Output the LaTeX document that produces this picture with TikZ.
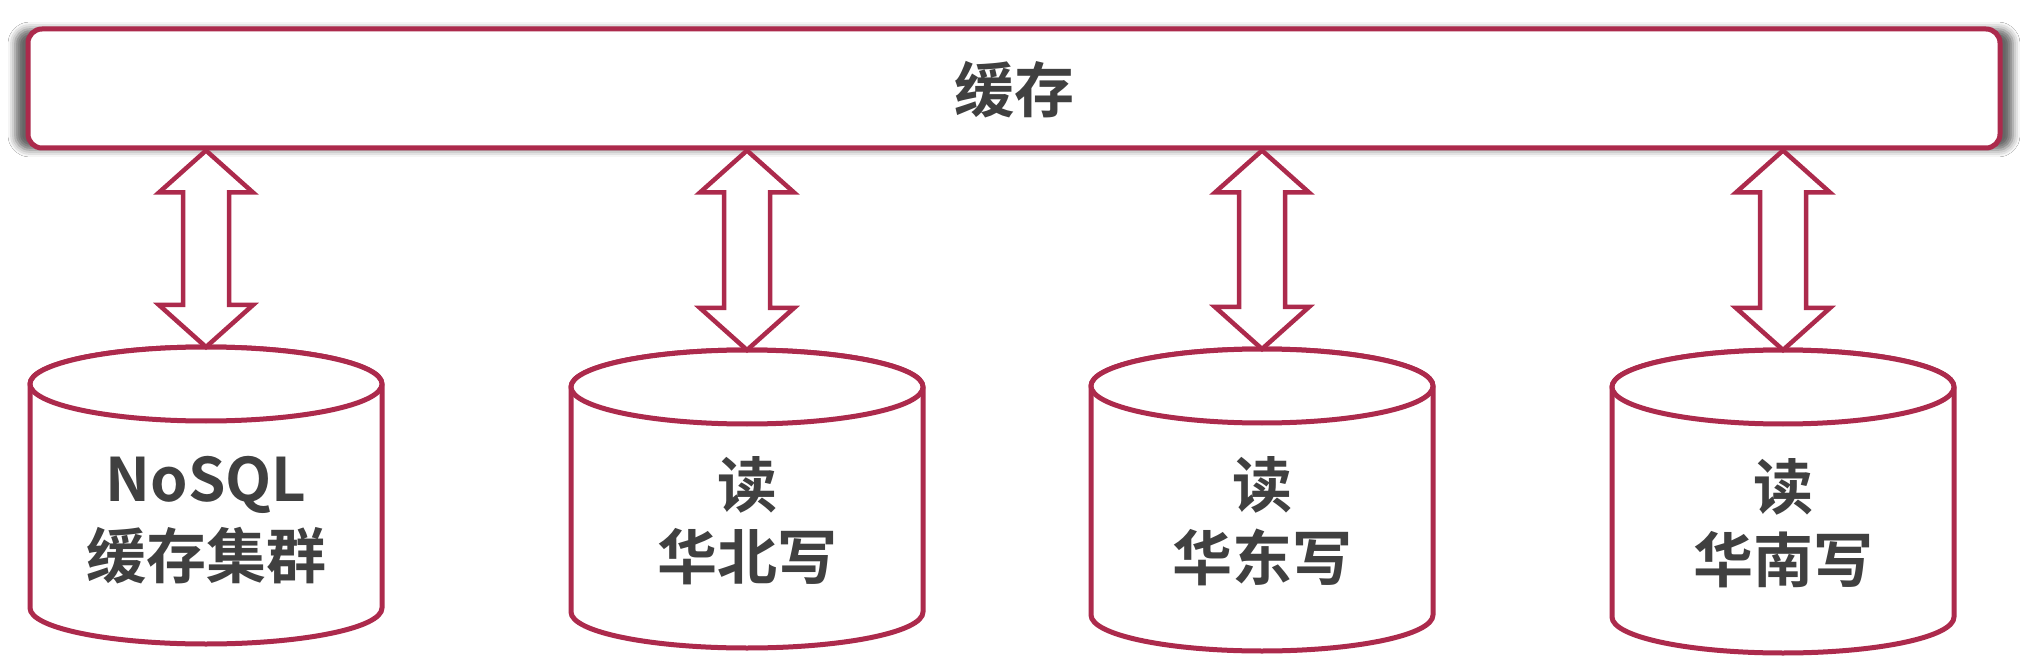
\documentclass[tikz,border=0pt]{standalone}
\usepackage{fontspec}
\newfontfamily\cjkb{Noto Sans CJK SC Bold}
\usetikzlibrary{calc,shadows.blur}
\definecolor{lc}{RGB}{172,42,76}
\definecolor{tc}{RGB}{64,64,64}
\newcommand\dbcyl[5]{% #1 name, #2 cx, #3 rx, #4 top y, #5 bottom y (pixels, downwards)
  \path[cylline] (#2-#3,-#4-37) -- (#2-#3,-#5+36)
    arc[start angle=180,end angle=360,x radius=#3,y radius=36]
    -- (#2+#3,-#4-37)
    arc[start angle=0,end angle=180,x radius=#3,y radius=37] -- cycle;
  \draw[cylline] (#2,-#4-37) ellipse[x radius=#3,y radius=37];
  \coordinate (#1) at (#2,-#4);
}
\newcommand\dblarrow[2]{% #1 top coordinate, #2 bottom coordinate
  \draw[blockarrow] let \p1=(#1), \p2=(#2) in
    (\x2,\y1) -- (\x2+47pt,\y1-42pt) -- (\x2+23pt,\y1-42pt)
    -- (\x2+23pt,\y2+42pt) -- (\x2+47pt,\y2+42pt) -- (\x2,\y2)
    -- (\x2-47pt,\y2+42pt) -- (\x2-23pt,\y2+42pt)
    -- (\x2-23pt,\y1-42pt) -- (\x2-47pt,\y1-42pt) -- cycle;
}
\begin{document}
\begin{tikzpicture}[x=1pt,y=1pt,
  cachebox/.style={draw=lc, line width=5pt, fill=white, rounded corners=14pt,
    minimum width=1972pt, minimum height=119pt, inner sep=0pt,
    blur shadow={shadow xshift=0pt, shadow yshift=-1pt, shadow blur radius=7pt,
      shadow scale=1.013, shadow opacity=60}},
  lbl/.style={font=\cjkb\fontsize{60}{72}\selectfont, text=tc, inner sep=0pt, anchor=base},
  cylline/.style={draw=lc, line width=5pt, fill=white, line join=round},
  blockarrow/.style={draw=lc, line width=4.5pt, fill=white, line join=miter}]
\useasboundingbox (0,0) rectangle (2022,-668);
\fill[white] (0,0) rectangle (2022,-668);

\node[cachebox] (cache) at (1014,-88.5) {};
\node[lbl] (cachetxt) at (1014,-113) {缓存};

\dbcyl{c1}{206}{176}{347}{644}
\dbcyl{c2}{747}{176}{350}{648}
\dbcyl{c3}{1262}{171}{349}{651}
\dbcyl{c4}{1783}{171}{350}{653}

\node[lbl] (t1a) at (206,-501) {NoSQL};
\node[lbl] (t1b) at (206,-578) {缓存集群};
\node[lbl] (t2a) at (747,-507) {读};
\node[lbl] (t2b) at (747,-579) {华北写};
\node[lbl] (t3a) at (1262,-507) {读};
\node[lbl] (t3b) at (1262,-580) {华东写};
\node[lbl] (t4a) at (1783,-509) {读};
\node[lbl] (t4b) at (1783,-582) {华南写};

\dblarrow{cache.south -| c1}{c1}
\dblarrow{cache.south -| c2}{c2}
\dblarrow{cache.south -| c3}{c3}
\dblarrow{cache.south -| c4}{c4}
\end{tikzpicture}
\end{document}
